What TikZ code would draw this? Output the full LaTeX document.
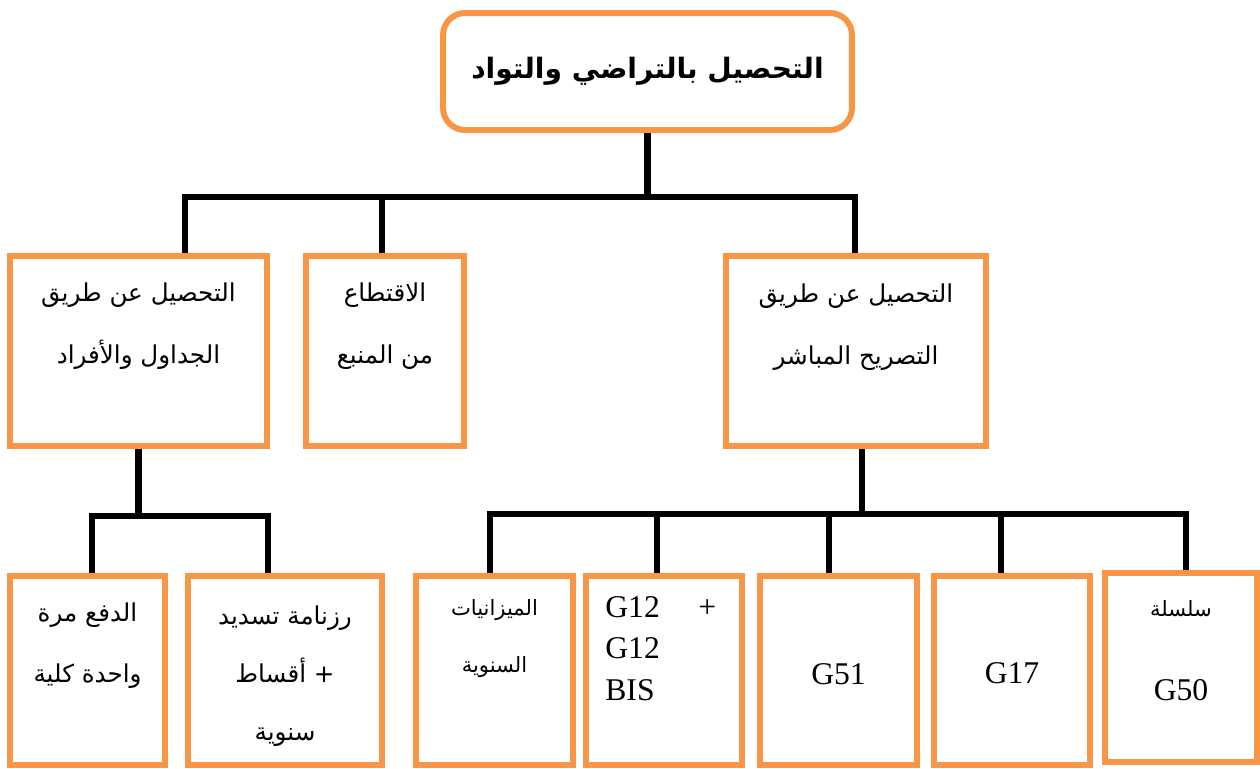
\documentclass[tikz,border=0pt]{standalone}
\usepackage{fontspec}
\setmainfont{Liberation Serif}
\newfontfamily\arabicfont[Script=Arabic]{DejaVu Sans}
\TeXXeTstate=1
\usetikzlibrary{positioning}
\definecolor{boxorange}{HTML}{F79646}
\newcommand{\artext}[1]{\beginR #1\endR}
\begin{document}
\begin{tikzpicture}[x=0.02cm, y=-0.02cm,
    box/.style={draw=boxorange, line width=3.4pt, minimum height=3.8cm},
    lowbox/.style={box, minimum height=3.78cm},
    bus/.style={line width=3.7pt, line cap=rect},
    drop/.style={line width=3.7pt},
    atxt/.style={font=\arabicfont\fontsize{14}{35}\selectfont, align=center, inner sep=0pt},
    stxt/.style={font=\arabicfont\fontsize{12}{32}\selectfont, align=center, inner sep=0pt},
    ltxt/.style={font=\fontsize{18}{23.5}\selectfont, inner sep=0pt}]
    \useasboundingbox (0,0) rectangle (1260,768);

    % Top box
    \node[box, rounded corners=0.44cm, minimum width=8.18cm, minimum height=2.34cm] (top) at (647.5,71.5)
        {\arabicfont\bfseries\fontsize{16}{20}\selectfont\artext{التحصيل بالتراضي والتواد}};

    % Second level
    \node[box, minimum width=5.14cm] (L2a) at (138.5,351) {};
    \node[box, minimum width=3.16cm] (L2b) at (385,351) {};
    \node[box, minimum width=5.2cm] (L2c) at (856,351) {};
    \node[atxt] (t2a) at ([yshift=-1.46cm]L2a.north) {\artext{التحصيل عن طريق}\\\artext{الجداول والأفراد}};
    \node[atxt] (t2b) at ([yshift=-1.46cm]L2b.north) {\artext{الاقتطاع}\\\artext{من المنبع}};
    \node[atxt] (t2c) at ([yshift=-1.48cm]L2c.north) {\artext{التحصيل عن طريق}\\\artext{التصريح المباشر}};

    % Third level
    \node[lowbox, minimum width=3.1cm] (L3a) at (87.5,670.5) {};
    \node[lowbox, minimum width=3.88cm] (L3b) at (285,670.5) {};
    \node[lowbox, minimum width=3.14cm] (L3c) at (494.5,670.5) {};
    \node[lowbox, minimum width=3.12cm] (L3d) at (664,670.5) {};
    \node[lowbox, minimum width=3.14cm] (L3e) at (838.5,670.5) {};
    \node[lowbox, minimum width=3.12cm] (L3f) at (1012,670.5) {};
    \node[lowbox, minimum width=3.04cm] (L3g) at (1181,667.5) {};

    \node[atxt] (t3a) at ([yshift=-1.45cm]L3a.north) {\artext{الدفع مرة}\\\artext{واحدة كلية}};
    \node[atxt, font=\arabicfont\fontsize{14}{33}\selectfont] (t3b) at ([yshift=-2.06cm]L3b.north)
        {\artext{رزنامة تسديد}\\\artext{+ أقساط}\\\artext{سنوية}};
    \node[stxt] (t3c) at ([yshift=-1.31cm]L3c.north) {\artext{الميزانيات}\\\artext{السنوية}};
    \node[ltxt, align=left, anchor=west] (t3d) at ([xshift=0.44cm, yshift=-1.51cm]L3d.north west)
        {G12\hspace{22pt}+\\G12\\BIS};
    \node[ltxt] (t3e) at ([yshift=-2.02cm]L3e.north) {G51};
    \node[ltxt] (t3f) at ([yshift=-2cm]L3f.north) {G17};
    \node[stxt] (t3g) at ([yshift=-0.78cm]L3g.north) {\artext{سلسلة}};
    \node[ltxt] (t3h) at ([yshift=-2.4cm]L3g.north) {G50};

    % Connectors, first level
    \coordinate (bus1a) at (185,197);
    \coordinate (bus1b) at (855,197);
    \draw[drop] (top.south) -- (top.south |- bus1a);
    \draw[bus] (bus1a) -- (bus1b);
    \foreach \n/\x in {L2a/185, L2b/382, L2c/855} {
        \coordinate (j\n) at (\x,197);
        \draw[drop] (j\n) -- (j\n |- \n.north);
    }

    % Connectors, left branch
    \coordinate (bus2a) at (92,516);
    \coordinate (bus2b) at (268,516);
    \draw[drop] (L2a.south) -- (L2a.south |- bus2a);
    \draw[bus] (bus2a) -- (bus2b);
    \foreach \n/\x in {L3a/92, L3b/268} {
        \coordinate (j\n) at (\x,516);
        \draw[drop] (j\n) -- (j\n |- \n.north);
    }

    % Connectors, right branch
    \coordinate (bus3a) at (490,514);
    \coordinate (bus3b) at (1186,514);
    \coordinate (j2c) at (862,514);
    \draw[drop] (j2c |- L2c.south) -- (j2c);
    \draw[bus] (bus3a) -- (bus3b);
    \foreach \n/\x in {L3c/490, L3d/657, L3e/829, L3f/1001, L3g/1186} {
        \coordinate (j\n) at (\x,514);
        \draw[drop] (j\n) -- (j\n |- \n.north);
    }
\end{tikzpicture}
\end{document}
